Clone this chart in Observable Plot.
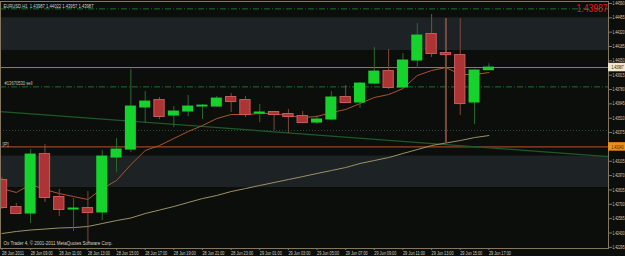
<!DOCTYPE html>
<html><head><meta charset="utf-8">
<script src="https://cdn.jsdelivr.net/npm/d3@7"></script>
<script src="https://cdn.jsdelivr.net/npm/@observablehq/plot@0.6"></script>
<style>html,body{margin:0;padding:0;background:#0b0e0b;overflow:hidden}</style>
</head><body><div id="chart"></div>
<script>
// ---- data ----
const opens  = [1.42924,1.42670,1.42613,1.43168,1.42764,1.42651,1.42660,1.42623,1.43140,1.43215,1.43611,1.43676,1.43535,1.43573,1.43620,1.43620,1.43705,1.43676,1.43554,1.43564,1.43545,1.43526,1.43469,1.43498,1.43705,1.43658,1.43836,1.43949,1.43799,1.44053,1.44298,1.44119,1.44100,1.43658,1.43962];
const highs  = [1.42952,1.42707,1.43215,1.43262,1.42839,1.42754,1.42820,1.43206,1.43319,1.43968,1.43761,1.43705,1.43620,1.43724,1.43639,1.43714,1.43742,1.43714,1.43639,1.43573,1.43592,1.43573,1.43535,1.43761,1.43818,1.43846,1.44175,1.44156,1.44119,1.44401,1.44486,1.44448,1.44448,1.43968,1.44022];
const lows   = [1.42651,1.42604,1.42519,1.42717,1.42585,1.42444,1.42331,1.42547,1.43000,1.43187,1.43469,1.43498,1.43422,1.43526,1.43498,1.43611,1.43564,1.43517,1.43469,1.43394,1.43366,1.43460,1.43451,1.43488,1.43648,1.43601,1.43827,1.43780,1.43790,1.43978,1.44081,1.43272,1.43535,1.43451,1.43957];
const closes = [1.42670,1.42613,1.43168,1.42764,1.42651,1.42660,1.42623,1.43149,1.43215,1.43620,1.43667,1.43526,1.43573,1.43620,1.43629,1.43695,1.43667,1.43545,1.43564,1.43545,1.43526,1.43469,1.43498,1.43705,1.43658,1.43836,1.43949,1.43799,1.44053,1.44288,1.44119,1.44109,1.43648,1.43959,1.43987];
const fastMA = [1.42848,1.42811,1.42886,1.42839,1.42801,1.42773,1.42745,1.42848,1.42924,1.43074,1.43206,1.43253,1.43319,1.43385,1.43441,1.43507,1.43545,1.43545,1.43554,1.43554,1.43535,1.43517,1.43526,1.43564,1.43592,1.43648,1.43705,1.43733,1.43789,1.43912,1.43959,1.43987,1.43921,1.43921,1.43940];
const slowMA = [1.42425,1.42444,1.42458,1.42467,1.42477,1.42481,1.42491,1.42519,1.42547,1.42571,1.42613,1.42646,1.42679,1.42717,1.42754,1.42783,1.42820,1.42848,1.42877,1.42905,1.42933,1.42961,1.42990,1.43018,1.43046,1.43084,1.43112,1.43140,1.43178,1.43215,1.43253,1.43277,1.43300,1.43328,1.43347];
const trendIdx   = [-0.105, 42.35];
const trendPrice = [1.43573, 1.43149];
const bandLow  = [1.44147, 1.42858];
const bandHigh = [1.44455, 1.43154];
const dashLevels = [1.44539, 1.43805];
const orderLevel = 1.43805;
const orderLabel = "#13670530 sell";
const dottedLevel = 1.43394;
const pivotLevel = 1.43240;
const lastPrice = 1.43987;
const titleText = "EURUSD,H1  1.43987 1.44022 1.43957 1.43987";
const copyText = "Ox Trader 4, \u00a9 2001-2011 MetaQuotes Software Corp.";
const yTickLabels = ["1.44590","1.44455","1.44320","1.44185","1.44050","1.43915","1.43780","1.43645","1.43510","1.43375","1.43240","1.43105","1.42970","1.42835","1.42700","1.42565","1.42430","1.42295"];
const xTickIdx = [0,2,4,6,8,10,12,14,16,18,20,22,24,26,28,30,32,34];
const xTickLabels = ["28 Jun 2011","28 Jun 09:00","28 Jun 11:00","28 Jun 13:00","28 Jun 15:00","28 Jun 17:00","28 Jun 19:00","28 Jun 21:00","28 Jun 23:00","29 Jun 01:00","29 Jun 03:00","29 Jun 05:00","29 Jun 07:00","29 Jun 09:00","29 Jun 11:00","29 Jun 13:00","29 Jun 15:00","29 Jun 17:00"];

// ---- build ----
const candles = opens.map((o, i) => ({i, o, h: highs[i], l: lows[i], c: closes[i]}));
const up = candles.filter(d => d.c >= d.o);
const down = candles.filter(d => d.c < d.o);
const yTicks = yTickLabels.map(Number);
const xMin = -0.1047, xMax = 42.353;
const bands = bandLow.map((lo, k) => ({lo, hi: bandHigh[k]}));
const trend = trendIdx.map((x, k) => ({x, y: trendPrice[k]}));
const F = "'Liberation Sans', sans-serif";
const fmt = d => d.toFixed(5);

const chart = Plot.plot({
  width: 625, height: 256,
  marginTop: 1, marginLeft: 0, marginRight: 17, marginBottom: 8,
  style: {background: "#0b0e0b", fontFamily: F, fontSize: "6px", color: "#d6d2c4"},
  x: {domain: [xMin, xMax], range: [0, 608]},
  y: {domain: [1.42284, 1.44618], range: [248, 0]},
  marks: [
    Plot.rect(bands, {x1: xMin, x2: xMax, y1: "lo", y2: "hi", fill: "#1d2325"}),
    Plot.ruleY(dashLevels, {stroke: "#17732f", strokeDasharray: "6,2,1,2"}),
    Plot.ruleY([dottedLevel], {stroke: "#2f4c3e", strokeDasharray: "1,2"}),
    Plot.ruleY([lastPrice], {stroke: "#8d8064"}),
    Plot.ruleY([pivotLevel], {stroke: "#c2502c"}),
    Plot.line(trend, {x: "x", y: "y", stroke: "#1d5a2a", strokeWidth: 1.3}),
    Plot.line(slowMA, {x: (d, i) => i, y: d => d, stroke: "#9c9166", strokeWidth: 1}),
    Plot.line(fastMA, {x: (d, i) => i, y: d => d, stroke: "#a9552e", strokeWidth: 1}),
    Plot.ruleX(up, {x: "i", y1: "l", y2: "h", stroke: "#2d6a2e"}),
    Plot.ruleX(down, {x: "i", y1: "l", y2: "h", stroke: "#7e4a3c", strokeWidth: d => (d.h - d.l > 0.01 ? 2 : 1)}),
    Plot.rect(up, {x1: d => d.i - 0.385, x2: d => d.i + 0.385, y1: "o", y2: "c", fill: "#16d22c", insetTop: -0.5, insetBottom: -0.5}),
    Plot.rect(down, {x1: d => d.i - 0.36, x2: d => d.i + 0.36, y1: "o", y2: "c", fill: "#ad3434", stroke: "#c85c5c", strokeWidth: 1, insetTop: -0.5, insetBottom: -0.5}),
    Plot.text([titleText], {frameAnchor: "top-left", dx: 3, dy: 2, textAnchor: "start", fill: "#d6d2c4", fontSize: 6}),
    Plot.text([orderLabel], {x: xMin, y: orderLevel, dx: 4, dy: -3.5, textAnchor: "start", fill: "#c8c4b0", fontSize: 6}),
    Plot.text(["[P]"], {x: xMin, y: pivotLevel, dx: 2, dy: -3, textAnchor: "start", fill: "#c8c4b0", fontSize: 5}),
    Plot.text([copyText], {frameAnchor: "bottom-left", dx: 3, dy: -4, textAnchor: "start", fill: "#d6d2c4", fontSize: 6}),
    Plot.text([lastPrice], {frameAnchor: "top-right", dx: -1, dy: 3, textAnchor: "end", lineAnchor: "top", text: fmt, fill: "#e8141a", fontSize: 11, fontFamily: "'Liberation Sans', sans-serif", className: "bigprice"}),
    Plot.frame({stroke: "#85775f"}),
    Plot.axisY(yTicks, {anchor: "right", tickSize: 3, tickPadding: 1, tickFormat: fmt, fill: "#d6d2c4", stroke: "#85775f", fontSize: 5, label: null}),
    Plot.axisX(xTickIdx, {anchor: "bottom", tickSize: 2, tickPadding: 1, tickFormat: i => xTickLabels[xTickIdx.indexOf(i)], textAnchor: "start", fill: "#d6d2c4", stroke: "#85775f", fontSize: 5, label: null}),
    Plot.rect([lastPrice], {x1: xMax, x2: xMax + 1.3, y1: d => d - 0.00040, y2: d => d + 0.00040, fill: "#f0e6cc"}),
    Plot.text([lastPrice], {x: xMax, y: d => d, dx: 3, textAnchor: "start", text: fmt, fill: "#111", fontSize: 5}),
    Plot.rect([pivotLevel], {x1: xMax, x2: xMax + 1.3, y1: d => d - 0.00040, y2: d => d + 0.00040, fill: "#e8901e"}),
    Plot.text([pivotLevel], {x: xMax, y: d => d, dx: 3, textAnchor: "start", text: fmt, fill: "#3a2000", fontSize: 5})
  ]
});
document.getElementById("chart").appendChild(chart);

// condense the tiny terminal-style texts to the widths seen in the picture
const yLabelSet = new Set(yTickLabels.concat([fmt(lastPrice)]));
const xLabelSet = new Set(xTickLabels);
d3.select(chart).selectAll("text").each(function () {
  const t = this.textContent;
  const sized = this.closest("[font-size]");
  const big = sized && parseFloat(sized.getAttribute("font-size")) >= 10;
  let len = null;
  if (big) len = 31;
  else if (xLabelSet.has(t)) len = 22;
  else if (t === titleText) len = 90;
  else if (t === copyText) len = 109;
  else if (t === orderLabel) len = 28;
  else if (yLabelSet.has(t)) len = 12;
  if (len != null) {
    this.setAttribute("textLength", len);
    this.setAttribute("lengthAdjust", "spacingAndGlyphs");
  }
});
</script></body></html>
